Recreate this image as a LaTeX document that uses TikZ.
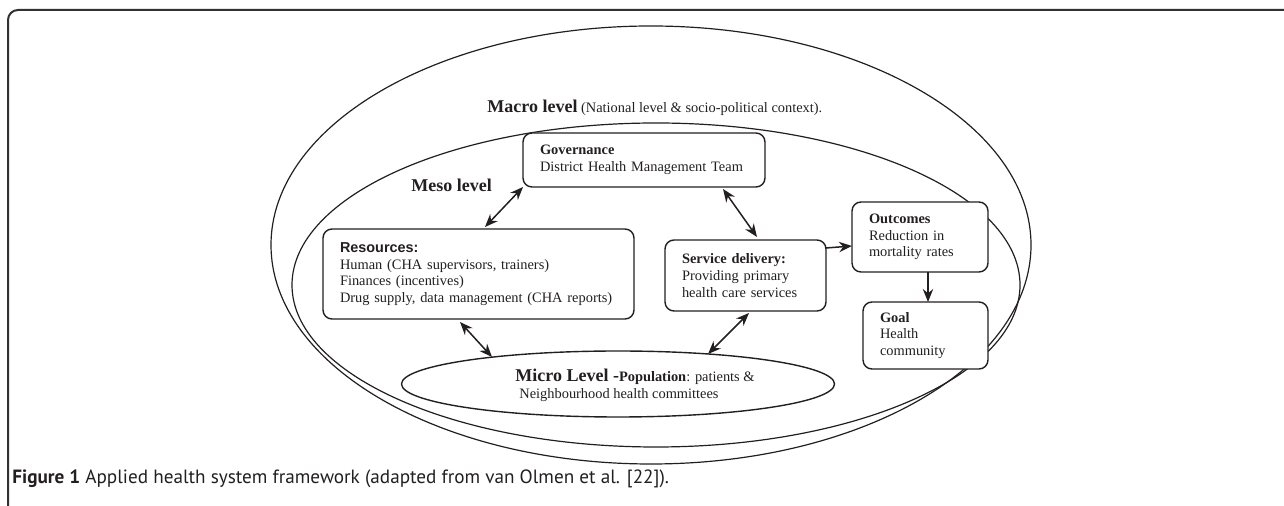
\documentclass[tikz,border=0pt]{standalone}
\usepackage{fontspec}
\setmainfont{Liberation Serif}
\newfontfamily\arialfont{Liberation Sans}
\newfontfamily\capfont{PT Sans}
\usetikzlibrary{shapes.geometric,arrows.meta,calc}
\definecolor{ink}{RGB}{35,31,32}
\definecolor{framec}{RGB}{50,50,50}
\begin{document}
\begin{tikzpicture}[x=0.5pt,y=-0.5pt,
  ring/.style={ellipse, draw=ink, line width=0.6pt, inner sep=0pt, outer sep=0pt},
  box/.style={draw=ink, rounded corners=4.5pt, fill=white, line width=0.7pt, align=left,
    inner xsep=8.5pt, inner ysep=0pt, outer sep=0pt, text=ink,
    font=\fontsize{7.2}{8.3}\selectfont},
  lbl/.style={inner sep=0pt, text=ink, font=\fontsize{7.2}{8.3}\selectfont},
  tip/.style={Stealth[length=6.5pt,width=5.2pt]},
  dbl/.style={{Stealth[length=6.5pt,width=5.2pt]}-{Stealth[length=6.5pt,width=5.2pt]}, line width=0.75pt, draw=ink},
  sgl/.style={-{Stealth[length=6.5pt,width=5.2pt]}, line width=0.75pt, draw=ink}
]
\useasboundingbox (0,0) rectangle (1284,506);
\clip (0,0) rectangle (1284,506);
\draw[line width=1pt, rounded corners=5pt, draw=framec] (8,10) rectangle (1330,560);

% level ellipses
\node[ring, minimum width=380pt, minimum height=219pt] (macro) at (651,245) {};
\node[ring, minimum width=364pt, minimum height=162pt] (meso) at (656,285) {};

% labels of levels
\node[lbl, anchor=base west] (macrotext) at (487,113)
  {{\fontsize{9}{10}\selectfont\bfseries Macro level} (National level \& socio-political context).};
\node[lbl, anchor=base west] (mesotext) at (411,192)
  {\fontsize{9}{10}\selectfont\bfseries Meso level};

% boxes
\node[box, text width=104pt, minimum height=27pt] (gov) at (644,160)
  {\textbf{Governance}\\District Health Management Team};
\node[box, text width=138.5pt, minimum height=45pt] (res) at (478.5,274)
  {{\arialfont\bfseries Resources:}\\Human (CHA supervisors, trainers)\\Finances (incentives)\\Drug supply, data management (CHA reports)};
\node[box, text width=63.5pt, minimum height=35.5pt] (svc) at (745.5,275.5)
  {\textbf{Service delivery:}\\Providing primary\\health care services};
\node[box, text width=51pt, minimum height=35pt] (out) at (920,237)
  {\textbf{Outcomes}\\Reduction in\\mortality rates};
\node[box, text width=45.5pt, minimum height=33.5pt] (goal) at (925.5,335.5)
  {\textbf{Goal}\\Health\\community};

% micro level
\node[ring, fill=white, line width=0.7pt, minimum width=216.5pt, minimum height=33pt] (micro) at (618,384) {};
\node[lbl, anchor=west, align=left] (microtext) at (515,385.5)
  {{\fontsize{9}{9}\selectfont\bfseries Micro Level -}{\bfseries Population}: patients \&\\
   \hspace*{2pt}Neighbourhood health committees};

% connectors
\draw[dbl] (gov.south west) -- ($(res.north)+(6.5,-2)$);
\draw[dbl] ($(res.south)+(-18.5,3)$) -- ($(micro.center)+(-126,-27)$);
\draw[dbl] ($(gov.south)+(79,2)$) -- ($(svc.north)+(11.5,-3)$);
\draw[dbl] ($(svc.south)+(3.5,2)$) -- ($(micro.center)+(90,-30)$);
\draw[sgl] ($(svc.north east)+(0,8)$) -- ($(out.west)+(0,9)$);
\draw[sgl] ($(out.south)+(8,0)$) -- ($(goal.north)+(2.5,0)$);

% caption
\node[anchor=base west, inner sep=0pt, text=ink, font=\capfont\fontsize{9.6}{11}\selectfont] (cap) at (12,484)
  {\textbf{Figure 1} Applied health system framework (adapted from van Olmen et al. [22]).};
\end{tikzpicture}
\end{document}
